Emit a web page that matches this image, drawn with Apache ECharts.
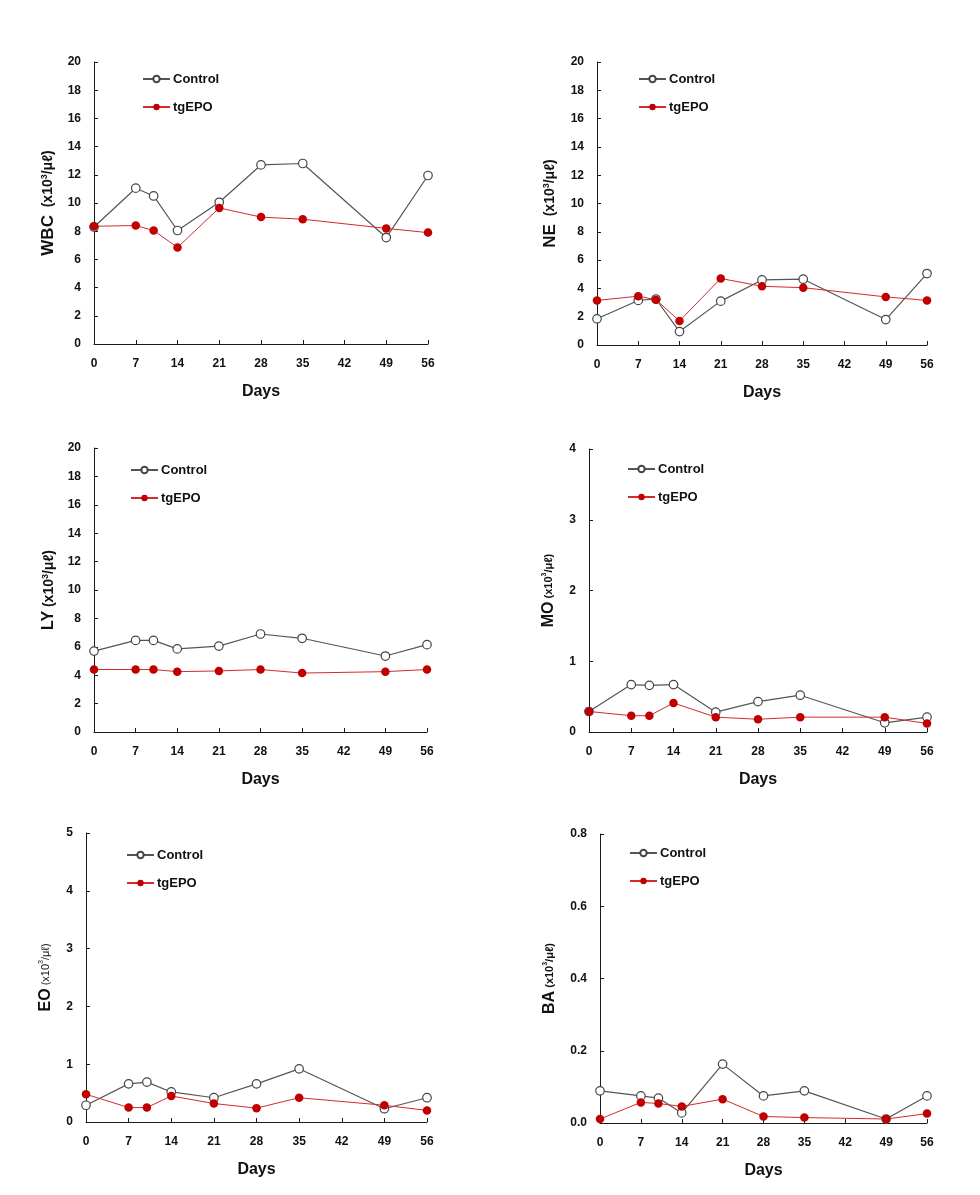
<!DOCTYPE html>
<html>
<head>
<meta charset="utf-8">
<script src="https://cdn.jsdelivr.net/npm/echarts@6/dist/echarts.min.js"></script>
<style>html,body{margin:0;padding:0;background:#fff}#c{width:980px;height:1195px}</style>
</head>
<body>
<div id="c"></div>
<script>
const days = [0, 7, 10, 14, 21, 28, 35, 49, 56];
const xTicks = [0, 7, 14, 21, 28, 35, 42, 49, 56];

const wbcControl = [8.3, 11.05, 10.5, 8.05, 10.05, 12.7, 12.8, 7.55, 11.95];
const wbcTgEPO   = [8.35, 8.4, 8.05, 6.85, 9.65, 9.0, 8.85, 8.2, 7.9];
const neControl  = [1.85, 3.15, 3.25, 0.95, 3.1, 4.6, 4.65, 1.8, 5.05];
const neTgEPO    = [3.15, 3.45, 3.2, 1.7, 4.7, 4.15, 4.05, 3.4, 3.15];
const lyControl  = [5.7, 6.45, 6.45, 5.85, 6.05, 6.9, 6.6, 5.35, 6.15];
const lyTgEPO    = [4.4, 4.4, 4.4, 4.25, 4.3, 4.4, 4.15, 4.25, 4.4];
const moControl  = [0.29, 0.67, 0.66, 0.67, 0.28, 0.43, 0.52, 0.13, 0.21];
const moTgEPO    = [0.29, 0.23, 0.23, 0.41, 0.21, 0.18, 0.21, 0.21, 0.12];
const eoControl  = [0.29, 0.66, 0.69, 0.52, 0.42, 0.66, 0.92, 0.23, 0.42];
const eoTgEPO    = [0.48, 0.25, 0.25, 0.45, 0.32, 0.24, 0.42, 0.29, 0.20];
const baControl  = [0.089, 0.075, 0.069, 0.028, 0.163, 0.075, 0.089, 0.011, 0.075];
const baTgEPO    = [0.011, 0.057, 0.054, 0.046, 0.066, 0.018, 0.015, 0.011, 0.026];

const panelNames = ['WBC', 'NE', 'LY', 'MO', 'EO', 'BA'];
const panelControl = [wbcControl, neControl, lyControl, moControl, eoControl, baControl];
const panelTgEPO = [wbcTgEPO, neTgEPO, lyTgEPO, moTgEPO, eoTgEPO, baTgEPO];
const yMax = [20, 20, 20, 4, 5, 0.8];
const yStep = [2, 2, 2, 1, 1, 0.2];
const yDecimals = [0, 0, 0, 0, 0, 1];

// layout (pixels)
const grids = [
  {left: 94, top: 62, width: 334, height: 282},
  {left: 597, top: 62, width: 330, height: 283},
  {left: 94, top: 448, width: 333, height: 284},
  {left: 589, top: 449, width: 338, height: 283},
  {left: 86, top: 833, width: 341, height: 289},
  {left: 600, top: 834, width: 327, height: 289}
];
const legendPos = [
  {left: 137, top: 67},
  {left: 633, top: 67},
  {left: 125, top: 458},
  {left: 622, top: 457},
  {left: 121, top: 843},
  {left: 624, top: 841}
];
const nameGaps = [37, 38, 37, 32, 32, 42];
const nameSep = ['  ', '  ', ' ', ' ', ' ', ' '];
const unitSize = [14, 14, 14, 11, 11, 11];
const unitWeight = ['bold', 'bold', 'bold', 'bold', 'normal', 'bold'];
const mainSize = [17, 17, 16, 16, 16, 16];

const FONT = 'Liberation Sans, Arial, sans-serif';
const AX = '#1a1a1a';

const option = {
  backgroundColor: '#fff',
  animation: false,
  textStyle: {fontFamily: FONT},
  grid: grids.map(g => Object.assign({containLabel: false}, g)),
  legend: legendPos.map(p => ({
    orient: 'vertical', left: p.left, top: p.top,
    data: ['Control', 'tgEPO'],
    itemWidth: 27, itemHeight: 8, itemGap: 14,
    textStyle: {fontFamily: FONT, fontSize: 13, fontWeight: 'bold', color: '#111', padding: [0, 0, 0, -2], lineHeight: 14},
    selectedMode: false
  })),
  xAxis: grids.map((g, i) => ({
    type: 'value', gridIndex: i, min: 0, max: 56, interval: 7,
    name: 'Days', nameLocation: 'middle', nameGap: 40,
    nameTextStyle: {fontFamily: FONT, fontSize: 16, fontWeight: 'bold', color: '#111'},
    axisLine: {show: true, onZero: false, lineStyle: {color: AX, width: 1}},
    axisTick: {show: true, inside: true, length: 4, lineStyle: {color: AX}},
    axisLabel: {fontFamily: FONT, fontSize: 12, fontWeight: 'bold', color: '#111', margin: 14,
      formatter: v => xTicks.includes(v) ? String(v) : ''},
    splitLine: {show: false}
  })),
  yAxis: grids.map((g, i) => ({
    type: 'value', gridIndex: i, min: 0, max: yMax[i], interval: yStep[i],
    name: '{m|' + panelNames[i] + '}' + nameSep[i] + '{u|(x10}{s|3}{u|/μℓ)}',
    nameLocation: 'middle', nameRotate: 90, nameGap: nameGaps[i],
    nameTextStyle: {
      fontFamily: FONT, color: '#111', fontSize: unitSize[i],
      rich: {
        m: {fontFamily: FONT, fontSize: mainSize[i], fontWeight: 'bold', color: '#111'},
        u: {fontFamily: FONT, fontSize: unitSize[i], fontWeight: unitWeight[i], color: '#111'},
        s: {fontFamily: FONT, fontSize: Math.round(unitSize[i] * 0.65), fontWeight: unitWeight[i], color: '#111', verticalAlign: 'top'}
      }
    },
    axisLine: {show: true, onZero: false, lineStyle: {color: AX, width: 1}},
    axisTick: {show: true, inside: true, length: 4, lineStyle: {color: AX}},
    axisLabel: {fontFamily: FONT, fontSize: 12, fontWeight: 'bold', color: '#111', margin: 13,
      formatter: v => v.toFixed(yDecimals[i])},
    splitLine: {show: false}
  })),
  series: []
};

for (let i = 0; i < 6; i++) {
  option.series.push({
    name: 'Control', type: 'line', xAxisIndex: i, yAxisIndex: i,
    data: days.map((d, k) => [d, panelControl[i][k]]),
    symbol: 'circle', symbolSize: 8.5, showAllSymbol: true,
    lineStyle: {color: '#555', width: 1.2},
    itemStyle: {color: '#fff', borderColor: '#444', borderWidth: 1.2},
    z: 2, clip: false
  });
  option.series.push({
    name: 'tgEPO', type: 'line', xAxisIndex: i, yAxisIndex: i,
    data: days.map((d, k) => [d, panelTgEPO[i][k]]),
    symbol: 'circle', symbolSize: 8.5, showAllSymbol: true,
    lineStyle: {color: '#d42a2a', width: 1},
    itemStyle: {color: '#c00000', borderColor: '#c00000', borderWidth: 0},
    z: 3, clip: false
  });
}

const chart = echarts.init(document.getElementById('c'), null, {renderer: 'canvas'});
chart.setOption(option);
</script>
</body>
</html>
